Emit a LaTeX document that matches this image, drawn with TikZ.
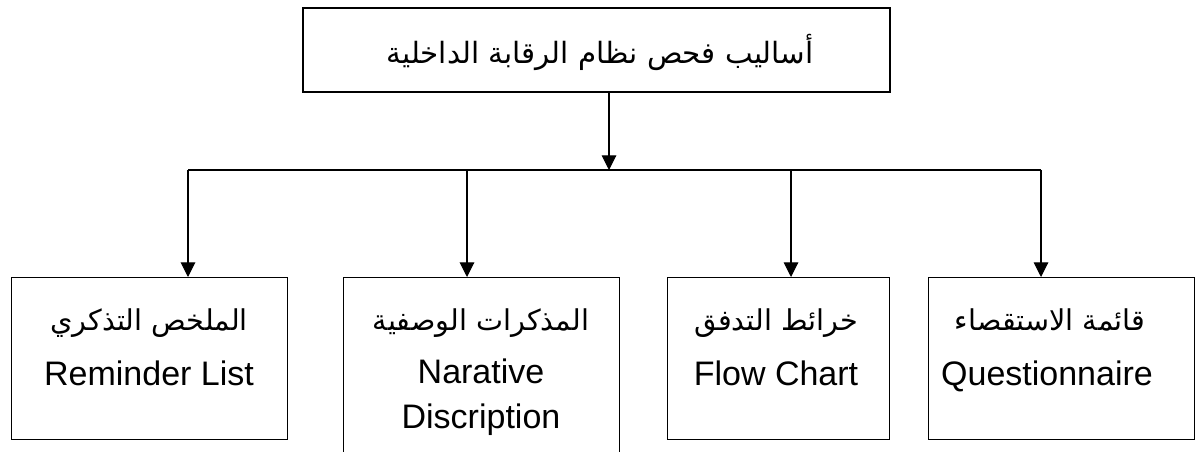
\documentclass[tikz,border=0pt]{standalone}
\usepackage{fontspec}
\setmainfont{Liberation Sans}
\newfontfamily\arabicfont[Script=Arabic]{DejaVu Sans}
\TeXXeTstate=1
\usetikzlibrary{arrows.meta}

\begin{document}
\begin{tikzpicture}[x=0.75pt,y=-0.75pt,
  boxline/.style={draw, line width=0.8pt, inner sep=0pt, anchor=north west},
  topframe/.style={draw, line width=1.3pt, inner sep=0pt, anchor=north west,
    minimum width=440.25pt, minimum height=63pt},
  arr/.style={line width=0.8pt, -{Triangle[length=11pt,width=11pt]}},
  link/.style={line width=0.8pt},
  artxt/.style={anchor=base, inner sep=0pt, font=\arabicfont\fontsize{21.5}{25}\selectfont},
  artop/.style={anchor=base, inner sep=0pt, font=\arabicfont\fontsize{22}{26}\selectfont},
  latxt/.style={anchor=base, inner sep=0pt, font=\fontsize{25.5}{30}\selectfont}
]
\useasboundingbox (0,0) rectangle (1196,452);
\clip (0,0) rectangle (1196,452);

% root
\node[topframe] (root) at (302,7) {};
\node[artop] (roottxt) at (600,64) {\beginR أساليب فحص نظام الرقابة الداخلية\endR};

% children frames
\node[boxline, minimum width=207pt, minimum height=121.5pt] (b1) at (11,277) {};
\node[boxline, minimum width=207pt, minimum height=150pt] (b2) at (343,277) {};
\node[boxline, minimum width=166.5pt, minimum height=121.5pt] (b3) at (667,277) {};
\node[boxline, minimum width=199.5pt, minimum height=121.5pt] (b4) at (928,277) {};

% children texts
\node[artxt] (a1) at (149,330) {\beginR الملخص التذكري\endR};
\node[latxt] (l1) at (149,385) {Reminder List};
\node[artxt] (a2) at (481,330) {\beginR المذكرات الوصفية\endR};
\node[latxt] (l2a) at (481,383) {Narative};
\node[latxt] (l2b) at (481,428) {Discription};
\node[artxt] (a3) at (776,330) {\beginR خرائط التدفق\endR};
\node[latxt] (l3) at (776,385) {Flow Chart};
\node[artxt] (a4) at (1050,330) {\beginR قائمة الاستقصاء\endR};
\node[latxt] (l4) at (1047,385) {Questionnaire};

% junctions on the distribution bar
\coordinate (hub) at (609,170);
\coordinate (j1) at (188,170);
\coordinate (j2) at (467,170);
\coordinate (j3) at (791,170);
\coordinate (j4) at (1041,170);

% connectors
\draw[arr] (root.south -| hub) -- (hub);
\draw[link] (j1) -- (j4);
\draw[arr] (j1) -- (j1 |- b1.north);
\draw[arr] (j2) -- (j2 |- b2.north);
\draw[arr] (j3) -- (j3 |- b3.north);
\draw[arr] (j4) -- (j4 |- b4.north);
\end{tikzpicture}
\end{document}
